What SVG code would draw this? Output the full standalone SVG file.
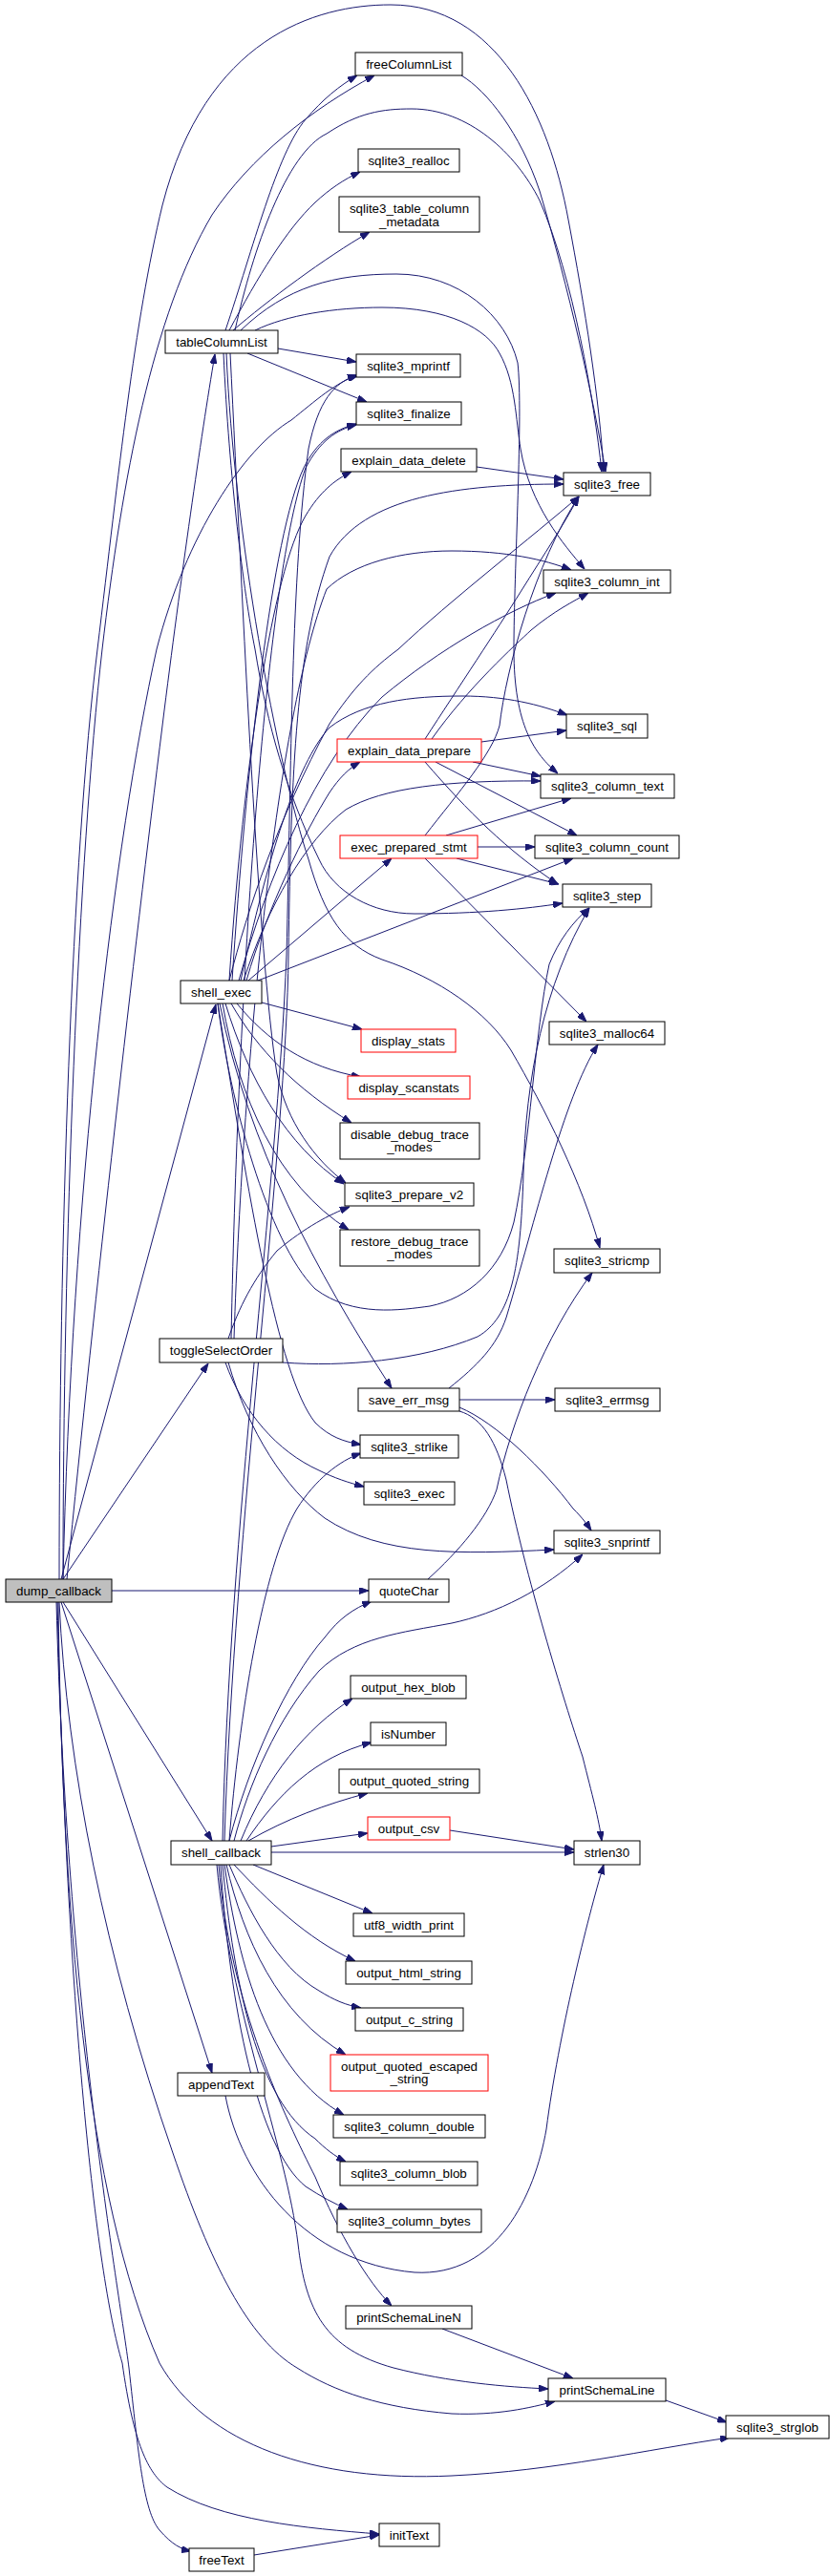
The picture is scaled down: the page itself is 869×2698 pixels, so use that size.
<svg xmlns="http://www.w3.org/2000/svg" width="869" height="2698" viewBox="0 0 869 2698">
<style>
.n rect{fill:#ffffff;stroke:#000000;stroke-width:1}
.n.r rect{stroke:#ff0000}
.n.g rect{fill:#bfbfbf}
.n text{font-family:"Liberation Sans",Arial,sans-serif;font-size:13.33px;fill:#000000;text-anchor:middle}
#edges path{fill:none;stroke:#191970;stroke-width:1;marker-end:url(#a)}
</style>
<defs>
<marker id="a" markerWidth="10" markerHeight="7" refX="10" refY="3.5" orient="auto" markerUnits="userSpaceOnUse"><path d="M0,0 L10,3.5 L0,7 z" fill="#191970" stroke="#191970" stroke-width="1"/></marker>
</defs>
<rect width="869" height="2698" fill="#ffffff"/>
<g id="edges">
<path d="M62,1654 C62,1300 75,900 102,680 C125,490 140,340 170,215 C215,40 330,5 409,5 C520,5 575,120 595,230 C612,320 628,420 632,494"/>
<path d="M66,1654 C66,1300 82,900 107,680 C128,500 160,330 222,225 C262,165 325,115 392,79"/>
<path d="M70,1654 C100,1350 140,1000 170,760 C190,600 210,460 225,371"/>
<path d="M66,1654 C75,1250 120,880 164,680 C195,560 255,470 305,440 C330,420 352,400 375,393"/>
<path d="M64,1654 L226,1052"/>
<path d="M66,1654 L218,1428"/>
<path d="M117,1666 L386,1666"/>
<path d="M66,1678 L222,1928"/>
<path d="M64,1678 L222,2171"/>
<path d="M62,1678 C70,1850 110,2050 181,2255 C220,2370 260,2450 311,2480 C350,2505 400,2522 473,2528 C520,2530 555,2522 581,2515"/>
<path d="M61,1678 C65,2000 90,2300 167,2475 C215,2560 330,2600 473,2593 C580,2588 680,2565 764,2553"/>
<path d="M60,1678 C70,2100 100,2380 128,2475 C140,2560 155,2590 175,2605 C230,2640 320,2648 397,2654"/>
<path d="M59,1678 C70,2100 125,2400 135,2480 C145,2570 150,2630 167,2650 C180,2665 190,2670 200,2672"/>
<path d="M266,2676 L397,2655"/>
<path d="M697,2514 L761,2537"/>
<path d="M463,2439 L600,2491"/>
<path d="M236,346 C265,260 290,160 320,125 C338,104 355,90 374,79"/>
<path d="M240,346 C270,290 300,240 330,212 C345,198 360,188 377,180"/>
<path d="M244,346 C280,315 340,270 387,243"/>
<path d="M246,346 C265,260 300,160 342,140 C375,118 400,114 431,114 C490,114 540,160 565,210 C600,290 622,420 630,494"/>
<path d="M267,346 C300,330 350,322 400,322 C470,322 510,345 523,370 C540,400 540,440 545,470 C555,530 590,570 612,596"/>
<path d="M252,346 C300,300 350,287 415,287 C480,287 530,330 542,380 C548,430 538,600 538,680 C538,760 560,790 584,810"/>
<path d="M291,365 L373,379"/>
<path d="M259,370 L384,421"/>
<path d="M234,370 C240,500 255,620 267,680 C280,760 300,830 334,900 C350,935 390,957 434,957 C500,957 550,952 589,946"/>
<path d="M237,370 C245,560 290,800 323,900 C340,960 360,990 400,1005 C460,1025 510,1060 535,1100 C570,1160 610,1240 628,1307"/>
<path d="M241,370 C255,650 270,1000 290,1125 C300,1175 330,1215 362,1239"/>
<path d="M483,79 C510,95 545,140 565,200 C595,300 622,420 634,494"/>
<path d="M499,489 L590,502"/>
<path d="M274,1050 L379,1078"/>
<path d="M248,1051 C280,1090 320,1118 378,1128"/>
<path d="M242,1051 C270,1100 310,1140 368,1176"/>
<path d="M236,1051 C260,1130 300,1200 360,1240"/>
<path d="M233,1051 C250,1150 290,1240 365,1288"/>
<path d="M230,1051 C260,1200 330,1330 410,1454"/>
<path d="M228,1051 C260,1250 290,1440 330,1490 C345,1505 360,1510 378,1513"/>
<path d="M240,1027 C255,800 285,600 320,540 C335,515 350,503 368,494"/>
<path d="M243,1027 C258,800 285,560 318,490 C332,462 350,450 373,444"/>
<path d="M240,1027 C260,950 290,860 345,758 C370,720 390,700 417,680 C470,630 560,560 606,520"/>
<path d="M250,1027 C280,920 330,800 400,730 C460,680 530,640 582,621"/>
<path d="M252,1027 C280,900 310,800 345,762 C380,735 430,729 484,729 C530,729 565,738 594,749"/>
<path d="M255,1027 C280,950 320,880 362,848 C400,825 470,817 566,818"/>
<path d="M258,1027 C280,950 320,870 345,830 C355,815 365,805 377,798"/>
<path d="M260,1027 L410,899"/>
<path d="M270,1027 L600,899"/>
<path d="M228,1051 C240,1150 280,1300 330,1350 C370,1380 420,1372 450,1368 C490,1360 525,1330 538,1280 C555,1200 560,1080 575,1010 C585,985 600,965 617,951"/>
<path d="M445,774 C480,720 520,660 545,620 C570,580 590,550 606,520"/>
<path d="M452,774 C490,720 540,675 556,660 C580,640 600,630 616,621"/>
<path d="M504,777 L593,765"/>
<path d="M495,798 L566,813"/>
<path d="M456,798 L604,875"/>
<path d="M445,798 C490,850 530,890 584,926"/>
<path d="M445,875 C480,830 515,790 523,760 C530,700 560,590 606,520"/>
<path d="M467,875 L598,836"/>
<path d="M500,887 L560,887"/>
<path d="M478,899 L585,926"/>
<path d="M445,899 L614,1070"/>
<path d="M239,1402 C250,1370 265,1340 290,1310 C320,1285 345,1272 366,1264"/>
<path d="M296,1427 C360,1432 440,1425 500,1400 C535,1380 545,1330 548,1230 C550,1130 570,1030 617,951"/>
<path d="M245,1402 C255,1100 290,750 342,617 C370,590 420,577 473,577 C530,577 570,586 598,597"/>
<path d="M242,1402 C250,1000 280,600 320,490 C335,462 352,450 373,445"/>
<path d="M239,1427 C260,1500 300,1560 340,1590 C400,1630 480,1628 580,1623"/>
<path d="M236,1427 C255,1480 290,1520 334,1540 C350,1548 365,1553 381,1557"/>
<path d="M481,1466 L581,1466"/>
<path d="M470,1454 C500,1430 520,1410 530,1380 C560,1280 590,1150 626,1094"/>
<path d="M481,1474 C520,1490 570,1540 600,1580 C610,1590 615,1597 619,1603"/>
<path d="M481,1478 C505,1485 520,1510 530,1550 C550,1650 590,1780 610,1840 C620,1880 627,1905 630,1928"/>
<path d="M448,1654 C480,1625 510,1590 520,1560 C535,1490 570,1400 620,1333"/>
<path d="M240,1928 C260,1850 300,1760 340,1715 C355,1695 370,1685 389,1677"/>
<path d="M245,1928 C260,1870 290,1800 334,1750 C370,1715 420,1710 473,1700 C520,1690 570,1665 610,1628"/>
<path d="M252,1928 C280,1860 320,1810 369,1779"/>
<path d="M258,1928 C290,1880 330,1840 389,1825"/>
<path d="M260,1928 C300,1905 340,1890 385,1878"/>
<path d="M284,1934 L385,1920"/>
<path d="M284,1940 L601,1940"/>
<path d="M265,1953 L390,2004"/>
<path d="M245,1953 C280,1990 320,2030 372,2054"/>
<path d="M240,1953 C260,2000 290,2060 334,2085 C350,2095 362,2100 378,2103"/>
<path d="M237,1953 C255,2030 290,2110 362,2152"/>
<path d="M235,1953 C250,2060 280,2170 360,2215"/>
<path d="M233,1953 C245,2080 270,2200 330,2240 C340,2250 350,2258 362,2264"/>
<path d="M231,1953 C240,2100 270,2250 320,2290 C335,2300 350,2308 364,2314"/>
<path d="M229,1953 C240,2100 300,2220 330,2280 C355,2340 385,2390 410,2415"/>
<path d="M227,1953 C240,2100 300,2250 312,2350 C320,2420 340,2460 412,2480 C470,2495 530,2500 574,2502"/>
<path d="M240,1928 C250,1800 275,1640 311,1580 C330,1550 355,1530 378,1522"/>
<path d="M233,1928 C240,1600 290,1250 300,1000 C305,800 305,600 323,470 C333,420 350,400 374,393"/>
<path d="M235,1928 C245,1600 300,1200 302,1000 C305,800 310,680 345,583 C380,520 480,507 590,507"/>
<path d="M471,1917 L601,1937"/>
<path d="M236,2195 C252,2280 320,2370 434,2380 C520,2385 560,2300 572,2230 C585,2130 615,2010 632,1953"/>
</g>
<g id="freeColumnList" class="n"><rect x="372" y="55" width="112" height="24"/><text x="428" y="71.7">freeColumnList</text></g>
<g id="sqlite3_realloc" class="n"><rect x="375" y="156" width="106" height="24"/><text x="428" y="172.7">sqlite3_realloc</text></g>
<g id="sqlite3_table_column_metadata" class="n"><rect x="355" y="206" width="147" height="37"/><text x="428.5" y="223">sqlite3_table_column</text><text x="428.5" y="236.5">_metadata</text></g>
<g id="tableColumnList" class="n"><rect x="173" y="346" width="118" height="24"/><text x="232" y="362.7">tableColumnList</text></g>
<g id="sqlite3_mprintf" class="n"><rect x="373" y="371" width="109" height="24"/><text x="427.5" y="387.7">sqlite3_mprintf</text></g>
<g id="sqlite3_finalize" class="n"><rect x="373" y="421" width="110" height="24"/><text x="428" y="437.7">sqlite3_finalize</text></g>
<g id="explain_data_delete" class="n"><rect x="357" y="470" width="142" height="24"/><text x="428" y="486.7">explain_data_delete</text></g>
<g id="sqlite3_free" class="n"><rect x="590" y="495" width="91" height="24"/><text x="635.5" y="511.7">sqlite3_free</text></g>
<g id="sqlite3_column_int" class="n"><rect x="569" y="597" width="133" height="24"/><text x="635.5" y="613.7">sqlite3_column_int</text></g>
<g id="sqlite3_sql" class="n"><rect x="593" y="748" width="85" height="25"/><text x="635.5" y="765.2">sqlite3_sql</text></g>
<g id="explain_data_prepare" class="n r"><rect x="353" y="774" width="151" height="24"/><text x="428.5" y="790.7">explain_data_prepare</text></g>
<g id="sqlite3_column_text" class="n"><rect x="566" y="811" width="140" height="25"/><text x="636" y="828.2">sqlite3_column_text</text></g>
<g id="exec_prepared_stmt" class="n r"><rect x="356" y="875" width="144" height="24"/><text x="428" y="891.7">exec_prepared_stmt</text></g>
<g id="sqlite3_column_count" class="n"><rect x="560" y="875" width="151" height="24"/><text x="635.5" y="891.7">sqlite3_column_count</text></g>
<g id="sqlite3_step" class="n"><rect x="589" y="926" width="93" height="24"/><text x="635.5" y="942.7">sqlite3_step</text></g>
<g id="shell_exec" class="n"><rect x="189" y="1027" width="85" height="24"/><text x="231.5" y="1043.7">shell_exec</text></g>
<g id="sqlite3_malloc64" class="n"><rect x="575" y="1070" width="121" height="24"/><text x="635.5" y="1086.7">sqlite3_malloc64</text></g>
<g id="display_stats" class="n r"><rect x="378" y="1078" width="99" height="24"/><text x="427.5" y="1094.7">display_stats</text></g>
<g id="display_scanstats" class="n r"><rect x="364" y="1127" width="128" height="24"/><text x="428" y="1143.7">display_scanstats</text></g>
<g id="disable_debug_trace_modes" class="n"><rect x="356" y="1176" width="146" height="38"/><text x="429" y="1193.2">disable_debug_trace</text><text x="429" y="1206">_modes</text></g>
<g id="sqlite3_prepare_v2" class="n"><rect x="361" y="1239" width="135" height="24"/><text x="428.5" y="1255.7">sqlite3_prepare_v2</text></g>
<g id="restore_debug_trace_modes" class="n"><rect x="356" y="1288" width="146" height="38"/><text x="429" y="1305.2">restore_debug_trace</text><text x="429" y="1318">_modes</text></g>
<g id="sqlite3_stricmp" class="n"><rect x="580" y="1308" width="111" height="25"/><text x="635.5" y="1325.2">sqlite3_stricmp</text></g>
<g id="toggleSelectOrder" class="n"><rect x="167" y="1402" width="129" height="25"/><text x="231.5" y="1419.2">toggleSelectOrder</text></g>
<g id="save_err_msg" class="n"><rect x="375" y="1454" width="106" height="24"/><text x="428" y="1470.7">save_err_msg</text></g>
<g id="sqlite3_errmsg" class="n"><rect x="581" y="1454" width="110" height="24"/><text x="636" y="1470.7">sqlite3_errmsg</text></g>
<g id="sqlite3_strlike" class="n"><rect x="377" y="1503" width="103" height="24"/><text x="428.5" y="1519.7">sqlite3_strlike</text></g>
<g id="sqlite3_exec" class="n"><rect x="381" y="1552" width="95" height="24"/><text x="428.5" y="1568.7">sqlite3_exec</text></g>
<g id="sqlite3_snprintf" class="n"><rect x="580" y="1603" width="111" height="24"/><text x="635.5" y="1619.7">sqlite3_snprintf</text></g>
<g id="dump_callback" class="n g"><rect x="6" y="1654" width="111" height="24"/><text x="61.5" y="1670.7">dump_callback</text></g>
<g id="quoteChar" class="n"><rect x="386" y="1654" width="84" height="24"/><text x="428" y="1670.7">quoteChar</text></g>
<g id="output_hex_blob" class="n"><rect x="367" y="1755" width="121" height="24"/><text x="427.5" y="1771.7">output_hex_blob</text></g>
<g id="isNumber" class="n"><rect x="388" y="1804" width="79" height="24"/><text x="427.5" y="1820.7">isNumber</text></g>
<g id="output_quoted_string" class="n"><rect x="355" y="1853" width="147" height="25"/><text x="428.5" y="1870.2">output_quoted_string</text></g>
<g id="output_csv" class="n r"><rect x="385" y="1903" width="86" height="24"/><text x="428" y="1919.7">output_csv</text></g>
<g id="shell_callback" class="n"><rect x="179" y="1928" width="105" height="25"/><text x="231.5" y="1945.2">shell_callback</text></g>
<g id="strlen30" class="n"><rect x="601" y="1928" width="69" height="25"/><text x="635.5" y="1945.2">strlen30</text></g>
<g id="utf8_width_print" class="n"><rect x="370" y="2004" width="116" height="24"/><text x="428" y="2020.7">utf8_width_print</text></g>
<g id="output_html_string" class="n"><rect x="362" y="2054" width="132" height="24"/><text x="428" y="2070.7">output_html_string</text></g>
<g id="output_c_string" class="n"><rect x="372" y="2103" width="113" height="24"/><text x="428.5" y="2119.7">output_c_string</text></g>
<g id="output_quoted_escaped_string" class="n r"><rect x="346" y="2152" width="165" height="38"/><text x="428.5" y="2169.2">output_quoted_escaped</text><text x="428.5" y="2182">_string</text></g>
<g id="appendText" class="n"><rect x="186" y="2171" width="91" height="24"/><text x="231.5" y="2187.7">appendText</text></g>
<g id="sqlite3_column_double" class="n"><rect x="349" y="2215" width="159" height="24"/><text x="428.5" y="2231.7">sqlite3_column_double</text></g>
<g id="sqlite3_column_blob" class="n"><rect x="356" y="2264" width="144" height="25"/><text x="428" y="2281.2">sqlite3_column_blob</text></g>
<g id="sqlite3_column_bytes" class="n"><rect x="353" y="2314" width="151" height="24"/><text x="428.5" y="2330.7">sqlite3_column_bytes</text></g>
<g id="printSchemaLineN" class="n"><rect x="362" y="2415" width="132" height="24"/><text x="428" y="2431.7">printSchemaLineN</text></g>
<g id="printSchemaLine" class="n"><rect x="574" y="2491" width="123" height="24"/><text x="635.5" y="2507.7">printSchemaLine</text></g>
<g id="sqlite3_strglob" class="n"><rect x="760" y="2530" width="108" height="24"/><text x="814" y="2546.7">sqlite3_strglob</text></g>
<g id="initText" class="n"><rect x="397" y="2643" width="63" height="24"/><text x="428.5" y="2659.7">initText</text></g>
<g id="freeText" class="n"><rect x="198" y="2669" width="68" height="24"/><text x="232" y="2685.7">freeText</text></g>
</svg>
